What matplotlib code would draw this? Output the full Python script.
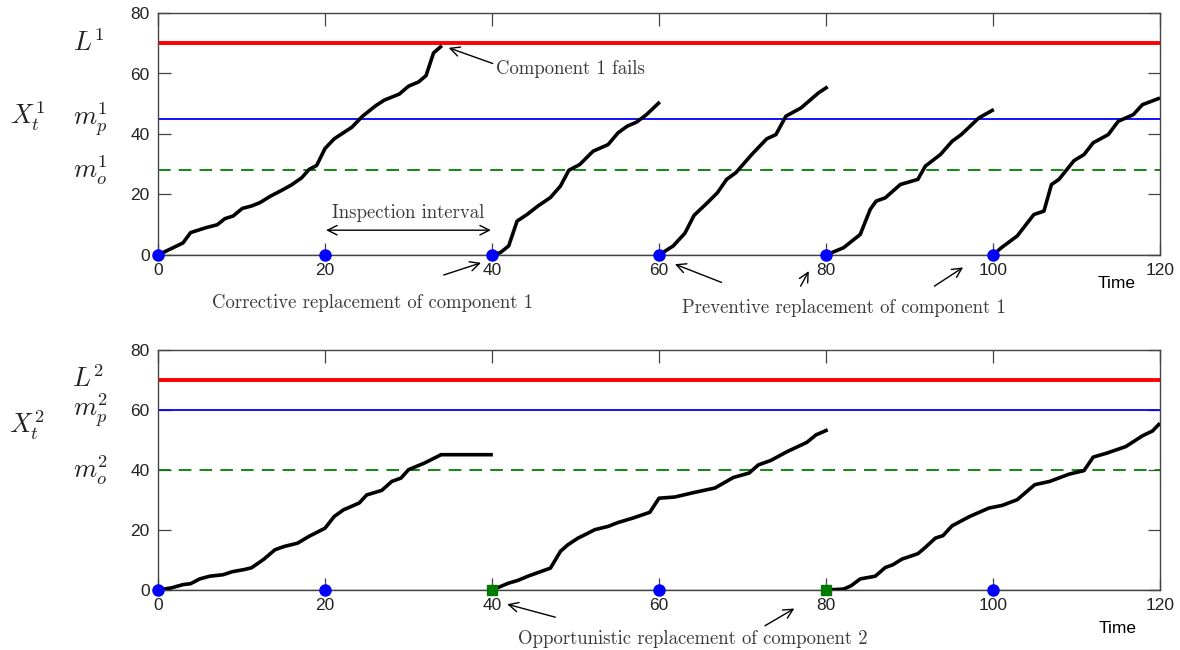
import numpy as np
import matplotlib
matplotlib.use("Agg")
import matplotlib.pyplot as plt

plt.rcParams['mathtext.fontset'] = 'cm'

# ---- thresholds ----
L1, mp1, mo1 = 70, 45, 28
L2, mp2, mo2 = 70, 60, 40

inspection_times = [0, 20, 40, 60, 80, 100]
opportunistic_times = [40, 80]

# ---- degradation paths of component 1 (one list per renewal cycle) ----
c1_t = [
    [0, 3, 3.9, 5.7, 7.1, 8, 9, 10.1, 11.2, 12.2, 13.5, 14.9, 16, 17.2, 18.1, 19,
     20, 21.1, 22.2, 23.2, 24.5, 26.1, 27.1, 28.9, 30, 31.2, 32.1, 33, 34],
    [40, 41, 42, 43, 44.2, 45.5, 47, 48.2, 49.2, 50.5, 52.1, 53.9, 55.1, 56.2,
     57.3, 58.5, 60.1],
    [60, 61.7, 63.1, 64.2, 65.8, 67, 68.1, 69.2, 71.1, 72.9, 74, 75.2, 77, 79.1, 80.2],
    [80, 82.1, 84.1, 85.3, 86, 87.1, 88.9, 91, 91.9, 93.7, 95.1, 96.2, 98.3, 100.1],
    [100, 101, 102.9, 104.9, 106.1, 107, 107.9, 109.7, 110.9, 112, 113.8, 115,
     116.8, 117.9, 120],
]
c1_x = [
    [0, 4, 7.4, 9, 10, 12, 12.9, 15.4, 16.2, 17.3, 19.5, 21.5, 23.2, 25.5, 28.3, 29.6,
     35.2, 38.4, 40.4, 42.2, 45.9, 49.4, 51.2, 53.2, 55.8, 57.2, 59.3, 66.8, 69.2],
    [0, 0.8, 3, 11.2, 13.4, 16.2, 19, 22.8, 28, 29.9, 34.3, 36.5, 40.4, 42.6,
     43.9, 46.4, 50.6],
    [0, 3, 7.2, 13.1, 17.3, 20.6, 25, 27.2, 33.2, 38.4, 39.8, 45.9, 48.6, 53.6, 55.6],
    [0, 2.4, 6.8, 15.1, 17.8, 18.9, 23.3, 25, 29.4, 33.2, 37.6, 39.8, 45.3, 48.1],
    [0, 2.4, 6.3, 13.4, 14.5, 23.3, 25, 31.2, 33.2, 37.1, 39.8, 44.2, 46.4, 49.7, 51.9],
]

# ---- degradation paths of component 2 ----
c2_t = [
    [0, 1.6, 3, 3.9, 5, 6.2, 7.8, 8.9, 10.3, 11.2, 12.6, 14, 15.1, 16.7, 18.1, 20,
     21.1, 22.2, 24.1, 25, 26.8, 28, 29.1, 30, 31.9, 33.9, 40.1],
    [40, 42, 43.1, 44.3, 47, 48.2, 49.1, 50.3, 51.4, 52.3, 53.9, 55.1, 56.9, 58.9,
     60, 61.9, 64.2, 66.7, 68.9, 70.8, 71.9, 73.4, 75.4, 77.7, 78.8, 80.2],
    [80, 82.1, 83, 84.1, 85.9, 87.1, 88, 89.1, 91, 91.9, 93.1, 94, 95.1, 97.2, 99.5,
     101.1, 102.9, 105, 106.8, 109.1, 110.9, 112, 113.6, 115.9, 117.9, 119.1, 120],
]
c2_x = [
    [0, 0.7, 1.8, 2.1, 3.7, 4.6, 5.1, 6.1, 6.8, 7.4, 10.1, 13.4, 14.5, 15.6, 17.9, 20.6,
     24.5, 26.7, 29, 31.7, 33.2, 36.2, 37.3, 40.1, 42.3, 45.1, 45.1],
    [0, 2.3, 3.2, 4.6, 7.3, 12.9, 15.1, 17.3, 18.8, 20.1, 21.2, 22.5, 24, 25.9,
     30.6, 31, 32.5, 34, 37.5, 39, 41.7, 43.2, 46.2, 49.2, 51.7, 53.4],
    [0, 0.3, 1.4, 3.7, 4.6, 7.5, 8.4, 10.3, 12.1, 14.2, 17.3, 18.1, 21.4, 24.5, 27.3,
     28.2, 30.1, 35.1, 36.2, 38.6, 39.8, 44.3, 45.6, 47.8, 51.4, 53, 55.6],
]

xticks = [0, 20, 40, 60, 80, 100, 120]
yticks = [0, 20, 40, 60, 80]

W, H = 1180, 650
fig = plt.figure(figsize=(W / 100, H / 100), dpi=100)
ax1 = fig.add_axes([158 / W, 1 - 255 / H, 1002 / W, 242 / H])
ax2 = fig.add_axes([158 / W, 1 - 590 / H, 1002 / W, 240 / H])

tick_font = 'Liberation Sans'
note_font = 'cmr10'
note_size = 13.5
note_color = '#3a3a3a'
spine_color = '#444444'


def style_axes(ax):
    ax.set_xlim(0, 120)
    ax.set_ylim(0, 80)
    ax.set_xticks(xticks)
    ax.set_yticks(yticks)
    ax.tick_params(direction='in', length=9, width=0.9, color=spine_color,
                   top=True, right=True, labelsize=12.5, pad=6)
    for lab in ax.get_xticklabels() + ax.get_yticklabels():
        lab.set_fontfamily(tick_font)
        lab.set_color('#222222')
    for s in ax.spines.values():
        s.set_color(spine_color)
        s.set_linewidth(1.0)
    ax.axhline(0, color=spine_color, lw=1.0, zorder=1)


def thresholds(ax, L, mp, mo):
    ax.axhline(L, color='#ff0000', lw=2.8, zorder=2)
    ax.axhline(mp, color='#0000ff', lw=1.3, zorder=2)
    ax.axhline(mo, color='#008000', lw=1.3, ls=(0, (7, 4.5)), zorder=2)


def side_labels(ax, idx, L, mp, mo, xlab_y):
    tr = ax.get_yaxis_transform()
    kw = dict(transform=tr, ha='right', va='center', fontsize=19, color='#222222')
    ax.text(-0.054, L, r'$L^{%d}$' % idx, **kw)
    ax.text(-0.05, mp, r'$m_p^{%d}$' % idx, **kw)
    ax.text(-0.05, mo, r'$m_o^{%d}$' % idx, **kw)
    ax.text(-0.113, xlab_y, r'$X_t^{%d}$' % idx, **kw)


def arrow(ax, start, end):
    ax.annotate('', xy=end, xytext=start, annotation_clip=False,
                arrowprops=dict(arrowstyle='->', color='black', lw=1.0,
                                mutation_scale=17))


def note(ax, x, y, s, ha='center'):
    ax.text(x, y, s, fontfamily=note_font, fontsize=note_size, color=note_color,
            ha=ha, va='center')


# ---------------- component 1 ----------------
style_axes(ax1)
thresholds(ax1, L1, mp1, mo1)
for t, x in zip(c1_t, c1_x):
    ax1.plot(t, x, color='black', lw=2.6, zorder=4, solid_capstyle='butt')
ax1.plot(inspection_times, [0] * len(inspection_times), 'o', color='#0000ff',
         ms=8, zorder=5, clip_on=False)
side_labels(ax1, 1, L1, mp1, mo1, 46)

ax1.text(114.8, -9.5, 'Time', fontfamily=tick_font, fontsize=12.5, ha='center',
         va='center', color='black')
note(ax1, 40.5, 61.5, 'Component 1 fails', ha='left')
arrow(ax1, (40.4, 63), (34.5, 68.8))

ax1.annotate('', xy=(19.8, 8.2), xytext=(40.2, 8.2),
             arrowprops=dict(arrowstyle='<->', color='black', lw=1.0,
                             mutation_scale=17))
note(ax1, 30, 13.8, 'Inspection interval')

note(ax1, 25.7, -15.8, 'Corrective replacement of component 1')
arrow(ax1, (33.9, -6.9), (39.0, -2.3))

note(ax1, 82.2, -17.5, 'Preventive replacement of component 1')
arrow(ax1, (67.8, -9.4), (61.6, -2.7))
arrow(ax1, (76.8, -11.1), (78.1, -4.5))
arrow(ax1, (92.7, -10.8), (96.7, -3.6))

# ---------------- component 2 ----------------
style_axes(ax2)
thresholds(ax2, L2, mp2, mo2)
for t, x in zip(c2_t, c2_x):
    ax2.plot(t, x, color='black', lw=2.6, zorder=4, solid_capstyle='butt')
blue_times = [t for t in inspection_times if t not in opportunistic_times]
ax2.plot(blue_times, [0] * len(blue_times), 'o', color='#0000ff',
         ms=8, zorder=5, clip_on=False)
ax2.plot(opportunistic_times, [0] * len(opportunistic_times), 's', color='#007a00',
         ms=7, zorder=5, clip_on=False)
side_labels(ax2, 2, L2, mp2, mo2, 55)

ax2.text(114.9, -12.7, 'Time', fontfamily=tick_font, fontsize=12.5, ha='center',
         va='center', color='black')
note(ax2, 64.1, -16.3, 'Opportunistic replacement of component 2')
arrow(ax2, (47.9, -9.3), (41.5, -4.5))
arrow(ax2, (72.4, -12.4), (76.5, -5.7))

fig.savefig('out.png', dpi=100)
